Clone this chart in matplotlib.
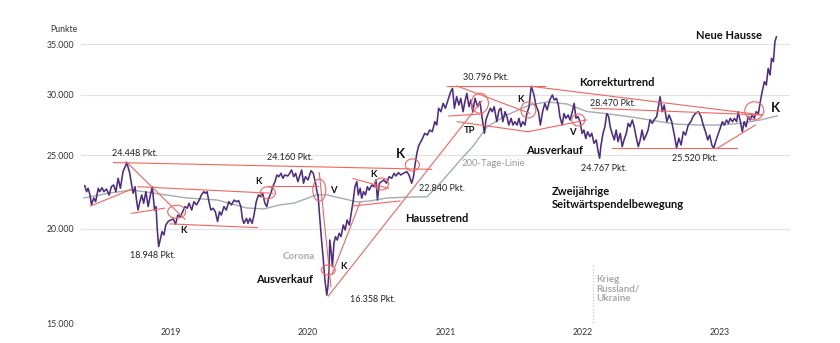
import pandas as pd
import matplotlib
matplotlib.use("Agg")
import matplotlib.pyplot as plt
import matplotlib.dates as mdates
from matplotlib.patches import Ellipse
from matplotlib.transforms import ScaledTranslation
from matplotlib.ticker import FuncFormatter, NullLocator

plt.rcParams["font.family"] = ["Lato", "DejaVu Sans"]

# Nikkei 225, Kursverlauf (Punkte)
datum = [
    "2018-06-12", "2018-06-17", "2018-06-21", "2018-06-26", "2018-06-30", "2018-07-06", "2018-07-11", "2018-07-18", "2018-07-22", "2018-07-28",
    "2018-08-02", "2018-08-09", "2018-08-16", "2018-08-22", "2018-08-28", "2018-09-03", "2018-09-09", "2018-09-15", "2018-09-22", "2018-09-28",
    "2018-10-02", "2018-10-10", "2018-10-15", "2018-10-19", "2018-10-24", "2018-10-28", "2018-11-01", "2018-11-06", "2018-11-11", "2018-11-16",
    "2018-11-22", "2018-11-28", "2018-12-04", "2018-12-09", "2018-12-15", "2018-12-19", "2018-12-22", "2018-12-26", "2019-01-04", "2019-01-09",
    "2019-01-14", "2019-01-20", "2019-01-27", "2019-02-03", "2019-02-09", "2019-02-15", "2019-02-21", "2019-02-28", "2019-03-06", "2019-03-12",
    "2019-03-17", "2019-03-24", "2019-03-30", "2019-04-06", "2019-04-13", "2019-04-19", "2019-04-25", "2019-04-30", "2019-05-04", "2019-05-09",
    "2019-05-14", "2019-05-20", "2019-05-26", "2019-06-01", "2019-06-06", "2019-06-11", "2019-06-18", "2019-06-24", "2019-07-01", "2019-07-08",
    "2019-07-15", "2019-07-21", "2019-07-27", "2019-08-02", "2019-08-06", "2019-08-10", "2019-08-17", "2019-08-21", "2019-08-26", "2019-09-01",
    "2019-09-06", "2019-09-12", "2019-09-18", "2019-09-24", "2019-09-29", "2019-10-05", "2019-10-10", "2019-10-15", "2019-10-21", "2019-10-26",
    "2019-11-01", "2019-11-06", "2019-11-11", "2019-11-17", "2019-11-22", "2019-11-27", "2019-12-05", "2019-12-10", "2019-12-15", "2019-12-21",
    "2019-12-26", "2020-01-01", "2020-01-05", "2020-01-11", "2020-01-16", "2020-01-21", "2020-01-28", "2020-02-05", "2020-02-11", "2020-02-17",
    "2020-02-20", "2020-02-24", "2020-02-28", "2020-03-04", "2020-03-08", "2020-03-13", "2020-03-18", "2020-03-21", "2020-03-24", "2020-03-26",
    "2020-03-30", "2020-04-02", "2020-04-06", "2020-04-10", "2020-04-15", "2020-04-20", "2020-04-25", "2020-05-01", "2020-05-06", "2020-05-11",
    "2020-05-17", "2020-05-22", "2020-05-27", "2020-06-01", "2020-06-06", "2020-06-10", "2020-06-15", "2020-06-19", "2020-06-24", "2020-06-29",
    "2020-07-04", "2020-07-09", "2020-07-16", "2020-07-22", "2020-07-27", "2020-07-31", "2020-08-05", "2020-08-11", "2020-08-17", "2020-08-24",
    "2020-08-31", "2020-09-07", "2020-09-13", "2020-09-18", "2020-09-25", "2020-10-01", "2020-10-08", "2020-10-17", "2020-10-23", "2020-10-30",
    "2020-11-04", "2020-11-08", "2020-11-13", "2020-11-17", "2020-11-21", "2020-11-26", "2020-12-04", "2020-12-11", "2020-12-17", "2020-12-24",
    "2020-12-31", "2021-01-05", "2021-01-10", "2021-01-16", "2021-01-22", "2021-01-28", "2021-02-04", "2021-02-11", "2021-02-16", "2021-02-21",
    "2021-02-27", "2021-03-05", "2021-03-10", "2021-03-16", "2021-03-21", "2021-03-26", "2021-04-01", "2021-04-06", "2021-04-11", "2021-04-17",
    "2021-04-24", "2021-04-30", "2021-05-06", "2021-05-12", "2021-05-16", "2021-05-22", "2021-05-28", "2021-06-02", "2021-06-07", "2021-06-14",
    "2021-06-20", "2021-06-25", "2021-06-30", "2021-07-06", "2021-07-11", "2021-07-16", "2021-07-22", "2021-07-27", "2021-08-01", "2021-08-07",
    "2021-08-12", "2021-08-17", "2021-08-22", "2021-08-28", "2021-09-02", "2021-09-08", "2021-09-12", "2021-09-14", "2021-09-21", "2021-09-26",
    "2021-10-03", "2021-10-08", "2021-10-14", "2021-10-20", "2021-10-26", "2021-11-02", "2021-11-09", "2021-11-14", "2021-11-20", "2021-11-25",
    "2021-11-29", "2021-12-05", "2021-12-10", "2021-12-15", "2021-12-21", "2021-12-26", "2021-12-31", "2022-01-06", "2022-01-11", "2022-01-16",
    "2022-01-22", "2022-01-27", "2022-02-01", "2022-02-06", "2022-02-11", "2022-02-17", "2022-02-22", "2022-02-28", "2022-03-06", "2022-03-11",
    "2022-03-15", "2022-03-18", "2022-03-24", "2022-03-29", "2022-04-03", "2022-04-08", "2022-04-12", "2022-04-17", "2022-04-23", "2022-04-28",
    "2022-05-03", "2022-05-09", "2022-05-14", "2022-05-19", "2022-05-25", "2022-05-30", "2022-06-04", "2022-06-10", "2022-06-15", "2022-06-20",
    "2022-06-26", "2022-07-01", "2022-07-06", "2022-07-11", "2022-07-17", "2022-07-22", "2022-07-27", "2022-08-02", "2022-08-07", "2022-08-14",
    "2022-08-23", "2022-08-29", "2022-09-03", "2022-09-10", "2022-09-16", "2022-09-23", "2022-09-30", "2022-10-06", "2022-10-12", "2022-10-18",
    "2022-10-24", "2022-10-30", "2022-11-06", "2022-11-13", "2022-11-19", "2022-11-25", "2022-12-03", "2022-12-10", "2022-12-16", "2022-12-22",
    "2022-12-28", "2023-01-02", "2023-01-08", "2023-01-13", "2023-01-18", "2023-01-24", "2023-01-30", "2023-02-05", "2023-02-10", "2023-02-16",
    "2023-02-21", "2023-02-26", "2023-03-04", "2023-03-09", "2023-03-15", "2023-03-19", "2023-03-25", "2023-03-30", "2023-04-04", "2023-04-09",
    "2023-04-15", "2023-04-20", "2023-04-25", "2023-05-01", "2023-05-06", "2023-05-12", "2023-05-17", "2023-05-22", "2023-05-28", "2023-06-02",
    "2023-06-07", "2023-06-12", "2023-06-16", "2023-06-21", "2023-06-25", "2023-06-29",
]
punkte = [
    22790, 22380, 22610, 22160, 21500, 21960, 21710, 22610, 22380, 22650,
    22380, 22560, 22160, 22720, 22840, 22380, 23310, 22610, 23780, 24150,
    24448, 23660, 22840, 22270, 22720, 21820, 21170, 21710, 22160, 21610,
    22380, 21390, 22160, 22720, 21170, 21390, 20030, 18948, 19830, 19630,
    20230, 20440, 20540, 20600, 20270, 20850, 20740, 21060, 21390, 21280,
    21610, 21170, 21710, 21500, 21820, 22160, 22380, 22270, 22380, 21710,
    21170, 21280, 21060, 20440, 21060, 20850, 21390, 21170, 21710, 21500,
    21820, 21710, 21780, 21390, 20640, 20330, 20640, 20330, 20640, 20330,
    20850, 21710, 22160, 22040, 22270, 21610, 21390, 21940, 22270, 22720,
    23070, 23540, 23420, 23660, 23310, 23540, 23470, 23660, 23900, 23420,
    23660, 23070, 23420, 23900, 22960, 23420, 23190, 23850, 23660, 22960,
    22490, 22040, 20740, 19330, 18380, 17120, 16358, 16780, 17650, 19330,
    18560, 17830, 19140, 19530, 19330, 19730, 19530, 20230, 19930, 20540,
    20230, 20960, 21710, 22720, 23070, 22160, 22610, 21940, 22380, 22160,
    22720, 22490, 22840, 22720, 23190, 21820, 22960, 23070, 23190, 22960,
    23420, 23310, 23660, 23470, 23710, 23540, 23660, 23780, 23540, 22960,
    23420, 24270, 25140, 25650, 25910, 26180, 26710, 26570, 26980, 26840,
    27670, 27390, 28820, 28520, 29250, 28820, 29550, 30300, 30610, 28820,
    29850, 29100, 29700, 28520, 29400, 30150, 28950, 29550, 28520, 29700,
    28950, 29400, 27950, 26710, 27810, 28360, 28820, 28520, 28950, 27670,
    28670, 28820, 27670, 28520, 28090, 27390, 27950, 27390, 27670, 27390,
    27950, 27250, 27670, 27390, 28360, 28950, 30300, 30796, 30000, 29100,
    28520, 27390, 28520, 29250, 28670, 29550, 30000, 29550, 29700, 29100,
    28110, 27390, 28360, 27950, 28240, 27810, 28360, 29250, 27950, 28110,
    27670, 26710, 26980, 26290, 26840, 26440, 26710, 25910, 26180, 25260,
    24767, 25650, 26710, 27250, 28360, 28110, 27250, 26710, 26180, 26980,
    26050, 26710, 25650, 26180, 26710, 27530, 27250, 27810, 27250, 26440,
    25650, 26180, 26980, 26180, 26570, 26980, 27810, 27530, 27810, 28110,
    29850, 28520, 29100, 27670, 28240, 27670, 26570, 25560, 26320, 25780,
    26840, 26570, 27390, 27670, 28110, 28360, 28520, 28110, 27390, 26840,
    26180, 26570, 25780, 25520, 26050, 26570, 27110, 27670, 27390, 27810,
    27530, 27950, 27670, 27950, 27670, 28520, 27670, 26840, 27670, 27250,
    28110, 27810, 28240, 27950, 28520, 28360, 29400, 30300, 31240, 30920,
    32530, 31880, 33530, 33190, 35260, 35780,
]

# 200-Tage-Linie
gd200_datum = [
    "2018-06-10", "2018-08-17", "2018-10-16", "2018-12-10", "2019-03-11", "2019-05-31",
    "2019-08-18", "2019-10-02", "2019-11-14", "2019-12-24", "2020-02-18", "2020-03-19",
    "2020-06-08", "2020-07-11", "2020-08-26", "2020-11-14", "2020-12-10", "2021-01-22",
    "2021-03-09", "2021-04-12", "2021-05-19", "2021-07-11", "2021-09-10", "2021-10-26",
    "2021-12-18", "2022-02-09", "2022-04-07", "2022-06-13", "2022-07-27", "2022-08-23",
    "2022-10-07", "2022-12-08", "2023-01-30", "2023-03-25", "2023-05-17", "2023-07-02",
]
gd200_punkte = [
    21960, 22290, 22490, 22290, 21960, 21820,
    21300, 21240, 21500, 21630, 22160, 22160,
    21690, 21760, 21960, 22030, 22030, 23190,
    24640, 25700, 27250, 28240, 29100, 29380,
    29190, 28540, 28330, 28040, 27810, 27670,
    27460, 27390, 27390, 27530, 27810, 28170,
]

# Trendlinien (Start / Ende)
trend_start = [
    "2018-06-28", "2018-08-28", "2018-09-30", "2018-11-01", "2018-10-15", "2019-01-25", "2019-10-12",
    "2020-02-27", "2020-04-01", "2020-03-22", "2020-05-27", "2020-05-27", "2021-02-01", "2021-09-14",
    "2021-02-28", "2021-02-06", "2021-02-28", "2021-09-05", "2022-02-23", "2022-04-16", "2023-01-22",
]
trend_ende = [
    "2018-10-16", "2020-12-22", "2019-03-06", "2019-10-26", "2019-01-11", "2019-09-15", "2020-02-24",
    "2020-03-29", "2020-06-15", "2021-05-05", "2020-08-29", "2020-09-29", "2021-10-20", "2023-05-22",
    "2021-09-10", "2021-05-08", "2021-09-05", "2022-02-08", "2023-05-21", "2023-03-15", "2023-05-04",
]
trend_wert_start = [
    21430, 24448, 24520, 22720, 20960, 20300, 22740,
    23710, 17440, 16310, 23290, 21430, 30796, 30796,
    30830, 28150, 27670, 26840, 28820, 25520, 25520,
]
trend_wert_ende = [
    22560, 23950, 20580, 22270, 21290, 20070, 22740,
    16780, 21690, 29460, 22610, 21760, 30796, 28240,
    28380, 28330, 26840, 27810, 28240, 25520, 27390,
]

# Kauf-/Verkaufssignale (Kreise)
kreis_datum = ["2019-02-12", "2019-10-13", "2020-02-27", "2020-03-22", "2020-08-11",
               "2020-11-01", "2021-04-30", "2021-09-06", "2022-01-17", "2023-05-01"]
kreis_punkte = [21060, 22310, 22490, 17650, 22910, 24270, 29260, 28670, 27810, 28600]
kreis_px = [(18, 13), (15, 12), (13, 22), (14, 10), (14, 12),
            (14, 12), (17, 20), (15, 16), (13, 12), (19, 18)]

kriegsbeginn = "2022-02-24"

texte = [
    ("24.448 Pkt.", "2018-10-25", 25160, "wert"),
    ("18.948 Pkt.", "2018-12-10", 18470, "wert"),
    ("24.160 Pkt.", "2019-12-10", 24860, "wert"),
    ("22.840 Pkt.", "2021-01-18", 22610, "wert"),
    ("16.358 Pkt.", "2020-07-19", 16150, "wert"),
    ("30.796 Pkt.", "2021-05-17", 31660, "wert"),
    ("28.470 Pkt.", "2022-04-20", 29250, "wert"),
    ("24.767 Pkt.", "2022-03-26", 24020, "wert"),
    ("25.520 Pkt.", "2022-11-25", 24720, "wert"),
    ("K", "2019-03-02", 19870, "klein"),
    ("K", "2019-09-19", 23070, "klein"),
    ("V", "2020-04-05", 22440, "klein"),
    ("K", "2020-07-19", 23610, "klein"),
    ("K", "2020-05-01", 17830, "klein"),
    ("TP", "2021-04-03", 26920, "klein"),
    ("K", "2021-08-17", 29610, "klein"),
    ("V", "2021-12-31", 26760, "klein"),
    ("K", "2020-09-29", 25090, "gross"),
    ("K", "2023-06-26", 28870, "gross"),
    ("Haussetrend", "2021-01-05", 20640, "titel"),
    ("Ausverkauf", "2019-11-26", 17170, "titel"),
    ("Ausverkauf", "2021-11-16", 25340, "titel"),
    ("Korrekturtrend", "2022-04-29", 31140, "titel"),
    ("Neue Hausse", "2023-02-23", 35900, "titel"),
    ("200-Tage-Linie", "2021-06-04", 24350, "grau"),
    ("Corona", "2020-01-04", 18380, "graufett"),
]

stil = {
    "wert": dict(fontsize=6.5, color="#222222"),
    "klein": dict(fontsize=6.8, fontweight="bold", color="#111111"),
    "gross": dict(fontsize=9.5, fontweight="bold", color="#111111"),
    "titel": dict(fontsize=8, fontweight="bold", color="#111111"),
    "grau": dict(fontsize=6.8, color="#9a9a9a"),
    "graufett": dict(fontsize=7, fontweight="bold", color="#a8a8a8"),
}

lila = "#4b2d83"
rot = "#f4645f"
grau = "#a4acac"

fig = plt.figure(figsize=(8.4, 3.43), dpi=100)
ax = fig.add_axes([0.0964, 0.0563, 0.844, 0.8708])

ax.plot(pd.to_datetime(gd200_datum), gd200_punkte, color=grau, lw=1.0, zorder=2)
ax.plot(pd.to_datetime(datum), punkte, color=lila, lw=1.15, zorder=3)

for a, b, wa, wb in zip(trend_start, trend_ende, trend_wert_start, trend_wert_ende):
    ax.plot(pd.to_datetime([a, b]), [wa, wb], color=rot, lw=0.8, zorder=4)

# circles are sized in pixels, centred on the data point
for d, v, (w, h) in zip(kreis_datum, kreis_punkte, kreis_px):
    tr = fig.dpi_scale_trans + ScaledTranslation(mdates.date2num(pd.Timestamp(d)), v, ax.transData)
    ax.add_patch(Ellipse((0, 0), w / 100, h / 100, transform=tr, fill=False,
                         ec=rot, lw=0.8, zorder=5))

# Kriegsbeginn Russland/Ukraine
kb = pd.Timestamp(kriegsbeginn)
ax.plot([kb, kb], [17920, 15000], color="#c8c8c8", lw=0.9, ls=(0, (1, 1.5)), zorder=1)
ax.text(mdates.date2num(pd.Timestamp("2022-03-06")), 16650, "Krieg\nRussland/\nUkraine",
        ha="left", va="center", linespacing=1.05, **stil["graufett"])

for s, d, v, k in texte:
    ax.text(mdates.date2num(pd.Timestamp(d)), v, s, ha="center", va="center", zorder=6, **stil[k])

ax.text(mdates.date2num(pd.Timestamp("2021-11-08")), 21970, "Zweijährige\nSeitwärtspendelbewegung",
        ha="left", va="center", linespacing=1.2, zorder=6, **stil["titel"])

ax.set_yscale("log")
ax.set_ylim(15000, 37090)
ax.set_yticks([15000, 20000, 25000, 30000, 35000])
ax.yaxis.set_minor_locator(NullLocator())
ax.yaxis.set_major_formatter(FuncFormatter(lambda v, _: f"{v:,.0f}".replace(",", ".")))
ax.set_xlim(pd.Timestamp("2018-06-02"), pd.Timestamp("2023-08-04"))
jahre = [2019, 2020, 2021, 2022, 2023]
ax.set_xticks([pd.Timestamp(f"{j}-01-01") for j in jahre])
ax.set_xticklabels([str(j) for j in jahre])
for lbl in ax.get_xticklabels():
    lbl.set_ha("left")

ax.tick_params(axis="both", length=0, labelsize=6.3, colors="#333333")
ax.tick_params(axis="y", pad=5)
ax.tick_params(axis="x", pad=3)
ax.yaxis.grid(True, color="#e2e2e2", lw=0.8)
ax.set_axisbelow(True)
for sp in ax.spines.values():
    sp.set_visible(False)

fig.text(50 / 840, 1 - 30 / 343, "Punkte", fontsize=6.3, color="#333333", ha="left", va="center")

fig.savefig("out.png", dpi=100)
